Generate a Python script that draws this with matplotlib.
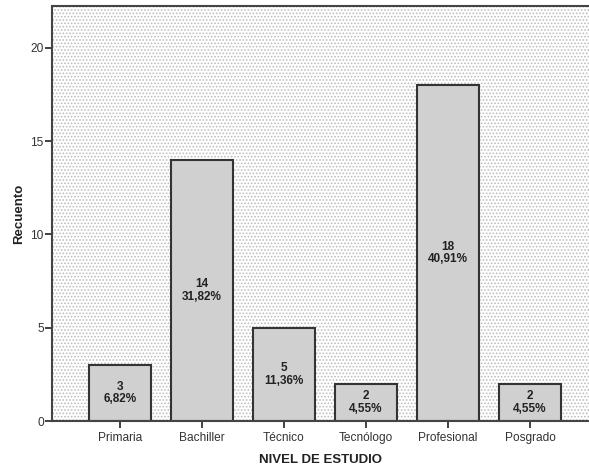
import matplotlib
matplotlib.use("Agg")
import matplotlib.pyplot as plt
from matplotlib.patches import Rectangle

niveles = ["Primaria", "Bachiller", "Técnico", "Tecnólogo", "Profesional", "Posgrado"]
recuento = [3, 14, 5, 2, 18, 2]
porcentajes = ["6,82%", "31,82%", "11,36%", "4,55%", "40,91%", "4,55%"]

plt.rcParams['font.family'] = ['Liberation Sans', 'DejaVu Sans']
plt.rcParams['hatch.color'] = '#bdbdbd'
plt.rcParams['hatch.linewidth'] = 0.8

fig = plt.figure(figsize=(5.89, 4.68), dpi=100)
ax = fig.add_axes([52 / 589, 47 / 468, 1 - 52 / 589, 415 / 468])

# dotted background like the SPSS output
ax.set_facecolor('white')
ax.add_patch(Rectangle((0, 0), 1, 1, transform=ax.transAxes, facecolor='white',
                       edgecolor='#bdbdbd', hatch='.....', linewidth=0, zorder=0))

x = list(range(len(niveles)))
ax.bar(x, recuento, width=0.756, color='#d0d0d0', edgecolor='#333333', linewidth=1.5, zorder=2)

for xi, n, p in zip(x, recuento, porcentajes):
    ax.text(xi, n / 2, f"{n}\n{p}", ha='center', va='center', fontsize=8.5,
            fontweight='bold', color='#222222', linespacing=1.05, zorder=3)

ax.set_xlim(-0.83, 5.72)
ax.set_ylim(0, 22.25)
ax.set_yticks([0, 5, 10, 15, 20])
ax.set_xticks(x)
ax.set_xticklabels(niveles)
ax.tick_params(axis='both', labelsize=8.6, colors='#333333', length=5, width=1.3, direction='out')
ax.tick_params(axis='y', pad=1)
ax.tick_params(axis='x', pad=3)

for side in ['left', 'bottom', 'top']:
    ax.spines[side].set_color('#444444')
    ax.spines[side].set_linewidth(1.5)
ax.spines['right'].set_visible(False)

ax.set_xlabel("NIVEL DE ESTUDIO", fontsize=9.5, fontweight='bold', color='#222222', labelpad=7)
ax.set_ylabel("Recuento", fontsize=9.5, fontweight='bold', color='#222222', labelpad=4)

plt.savefig("out.png", dpi=100)
plt.close()
